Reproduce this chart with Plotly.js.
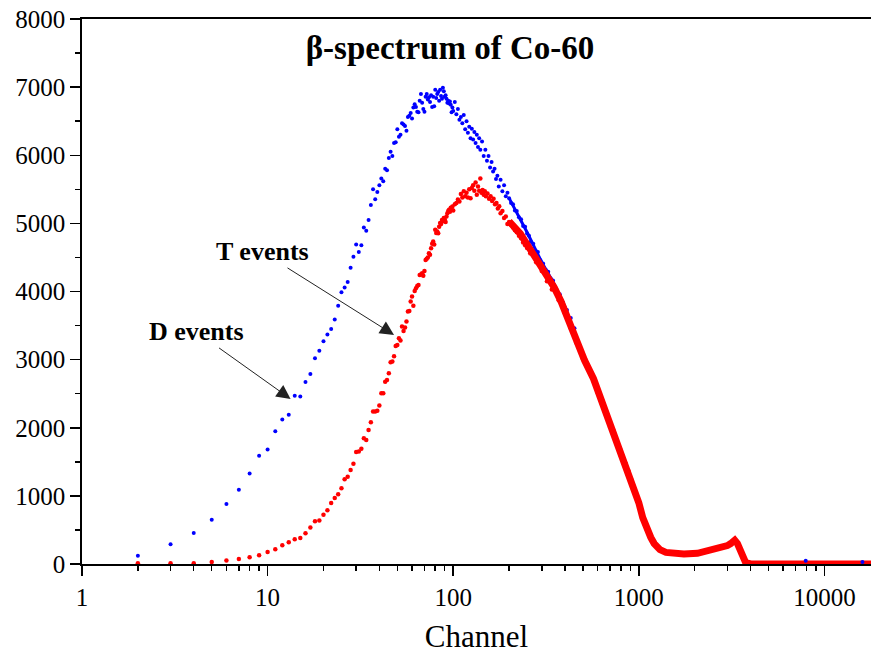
<!DOCTYPE html>
<html>
<head>
<meta charset="utf-8">
<script src="https://cdn.plot.ly/plotly-3.0.1.min.js"></script>
<style>html,body{margin:0;padding:0;background:#fff;}#chart{width:871px;height:654px;}</style>
</head>
<body>
<div id="chart"></div>
<script>
// ---- D events (blue), individual channels ----
const dChannels = [2,3,4,5,6,7,8,9,10,11,12,13,14,15,16,17,18,19,20,21,22,23,24,25,26,27,28,29,30,31,32,33,34,35,36,37,38,39,
  40,41,42,43,44,45,46,47,48,49,50,51,52,53,54,55,56,57,58,59,
  60,61,62,63,64,65,66,67,68,69,70,71,72,73,74,75,76,77,78,79,80,81,82,83,84,85,86,87,88,89,90,91,92,93,94,95,96,97,98,99,
  100,102,104,106,108,110,112,114,116,118,120,122,124,126,128,130,132,134,136,138,140,143,146,149,152,155,158,161,164,167,170,173,176,180,184,188,192,196,
  200,205,210,215,220,226,232,238,244,250,256,262,270,278,286,295,305,315,325,335,345,360,375,390,410,430,450];
const dCounts = [120,290,455,650,880,1090,1330,1590,1680,1950,2120,2190,2470,2460,2670,2790,3020,3130,3270,3370,3450,3590,3790,3990,4060,4140,4350,4510,4690,4580,4680,4940,4890,5050,5270,5500,5355,5460,
  5560,5660,5620,5800,5780,5960,6050,5990,6180,6190,6380,6270,6300,6470,6450,6430,6360,6560,6580,6620,
  6540,6700,6750,6710,6640,6630,6800,6900,6770,6680,6640,6860,6900,6820,6850,6780,6880,6710,6860,6720,6960,6840,6900,6930,6800,6960,6870,6830,6990,6940,6860,6880,6830,6770,6800,6760,6790,6740,6630,6700,
  6650,6780,6600,6680,6520,6560,6470,6590,6380,6500,6330,6420,6250,6390,6230,6340,6180,6300,6120,6250,6080,6200,5990,6080,5920,5990,5820,5900,5760,5800,5650,5700,5540,5640,5470,5560,5400,5450,
  5370,5300,5280,5190,5180,5090,5060,4960,4950,4850,4820,4730,4700,4600,4580,4460,4410,4320,4290,4190,4160,4030,3960,3840,3730,3610,3460];
// D events dense band (high channels)
const dBandChannels = [200,250,300,350,400,450,510,570,610,650,700,760,810,860,900,950,1000,1050,1110,1160,1210,1300,1400,1500,1750,2070,2440,2760,3000,3126,3286,3400,3467,3616,3765,4009];
const dBandCounts   = [5370,4870,4430,4110,3780,3380,2990,2720,2500,2310,2060,1840,1610,1440,1290,1110,900,680,500,390,300,210,170,155,147,157,200,230,270,300,350,300,254,107,20,0];
// isolated D events at the far end
const dTailChannels = [7930,16030];
const dTailCounts   = [48,29];

// ---- T events (red), individual channels ----
const tChannels = [2,3,4,5,6,7,8,9,10,11,12,13,14,15,16,17,18,19,20,21,22,23,24,25,26,27,28,29,30,31,32,33,34,35,36,37,38,39,
  40,41,42,43,44,45,46,47,48,49,50,51,52,53,54,55,56,57,58,59,
  60,61,62,63,64,65,66,67,68,69,70,71,72,73,74,75,76,77,78,79,80,81,82,83,84,85,86,87,88,89,90,91,92,93,94,95,96,97,98,99,
  100,102,104,106,108,110,112,114,116,118,120,122,124,126,128,130,132,134,136,138,140,142,144,146,148,150,153,156,159,162,165,168,171,174,177,180,184,188,192,196,
  200,205,210,215,220,226,232,238,244,250,
  260,270,280,290,300,310,320,330,340,355,370,385,400,415,430,445,460,480,500,520,540,560,580,600,625,650,675,700,730,760,790,820,850,880,910,940,970,1000,1030,1060,1100,1150];
const tCounts = [10,10,10,30,50,75,100,130,176,215,274,318,362,382,450,534,627,637,724,788,896,969,1023,1111,1243,1282,1380,1473,1645,1650,1690,1845,1820,1968,2080,2237,2240,2250,
  2325,2506,2506,2677,2702,2800,2962,2971,3050,3201,3216,3314,3280,3485,3421,3470,3558,3705,3715,3852,
  3925,3789,4009,4048,4082,4097,4244,4250,4269,4230,4300,4464,4480,4500,4562,4540,4636,4700,4733,4690,4905,4860,4880,4856,4950,5007,4990,5050,5030,5080,5060,5020,5100,5150,5180,5200,5170,5230,5210,5247,
  5190,5280,5300,5350,5320,5430,5380,5470,5400,5450,5380,5500,5370,5520,5560,5480,5600,5420,5540,5480,5660,5450,5490,5420,5470,5400,5440,5360,5400,5330,5360,5280,5300,5220,5250,5150,5180,5080,5100,4990,
  5020,4980,4940,4900,4870,4820,4780,4720,4680,4640,
  4560,4560,4430,4440,4300,4300,4150,4160,4030,4010,3870,3830,3680,3620,3460,3420,3250,3180,3010,2960,2860,2740,2700,2520,2440,2270,2200,2010,1960,1800,1700,1570,1470,1360,1240,1120,1020,880,760,650,520,400];
// T events dense band (high channels)
const tBandChannels = [200,230,260,290,320,350,380,420,460,510,570,610,650,700,760,810,860,900,950,1000,1050,1110,1160,1210,1300,1400,1500,1750,2070,2440,2760,3000,3126,3286,3400,3467,3616,3765,4009,5000,8000,12000,18000];
const tBandCounts   = [5030,4850,4620,4420,4220,4060,3860,3560,3300,2990,2720,2500,2310,2060,1840,1610,1440,1290,1110,900,680,500,390,300,210,170,155,147,157,200,230,270,300,350,300,254,107,20,0,0,0,0,0];

// ---- tick labels ----
const xTickVals = [1,10,100,1000,10000];
const xTickText = ['1','10','100','1000','10000'];

const minorX = [];
for (let d = 1; d <= 10000; d *= 10) for (let k = 2; k <= 9; k++) minorX.push(k * d);

const serif = 'Liberation Serif, Times New Roman, serif';
const BLUE = '#0000ff', RED = '#ff0000';

const traces = [
  {x: dBandChannels, y: dBandCounts, type: 'scatter', mode: 'lines', line: {color: BLUE, width: 3}, cliponaxis: false, hoverinfo: 'skip'},
  {x: dChannels, y: dCounts, type: 'scatter', mode: 'markers', marker: {color: BLUE, size: 4}, cliponaxis: false},
  {x: tBandChannels, y: tBandCounts, type: 'scatter', mode: 'lines', line: {color: RED, width: 7}, cliponaxis: false, hoverinfo: 'skip'},
  {x: tChannels, y: tCounts, type: 'scatter', mode: 'markers', marker: {color: RED, size: 4.5}, cliponaxis: false},
  {x: dTailChannels, y: dTailCounts, type: 'scatter', mode: 'markers', marker: {color: BLUE, size: 4}, cliponaxis: false}
];

const layout = {
  width: 871, height: 654,
  margin: {l: 82, r: 0, t: 19, b: 90},
  paper_bgcolor: '#fff', plot_bgcolor: '#fff',
  showlegend: false,
  font: {family: serif, color: '#000', size: 24},
  title: {text: '<b>β-spectrum of Co-60</b>', font: {family: serif, size: 33, color: '#000'},
          x: 450/871, xanchor: 'center', xref: 'container', y: 1 - 47/654, yanchor: 'middle', yref: 'container'},
  xaxis: {
    type: 'log', range: [0, 4.251],
    tickmode: 'array', tickvals: xTickVals, ticktext: xTickText,
    ticks: 'outside', ticklen: 10, tickwidth: 1.5, tickcolor: '#000',
    showline: true, linecolor: '#000', linewidth: 1.8, mirror: true,
    showgrid: false, zeroline: false,
    tickfont: {family: serif, size: 25, color: '#000'},
    minor: {tickmode: 'array', tickvals: minorX, ticks: 'outside', ticklen: 5, tickwidth: 1.5, tickcolor: '#000', showgrid: false},
    title: {text: 'Channel', font: {family: serif, size: 31, color: '#000'}, standoff: 18}
  },
  yaxis: {
    range: [0, 8000], tick0: 0, dtick: 1000,
    ticks: 'outside', ticklen: 10, tickwidth: 1.5, tickcolor: '#000',
    showline: true, linecolor: '#000', linewidth: 1.8,
    showgrid: false, zeroline: false,
    tickfont: {family: serif, size: 25, color: '#000'},
    minor: {dtick: 500, ticks: 'outside', ticklen: 5, tickwidth: 1.5, tickcolor: '#000', showgrid: false}
  },
  annotations: [
    {x: Math.log10(48), y: 3363, xref: 'x', yref: 'y', text: '<b>T events</b>', showarrow: true,
     ax: -132, ay: -83, arrowhead: 2, arrowsize: 2.8, arrowwidth: 1, arrowcolor: '#222',
     font: {family: serif, size: 26, color: '#000'}},
    {x: Math.log10(13.3), y: 2423, xref: 'x', yref: 'y', text: '<b>D events</b>', showarrow: true,
     ax: -94, ay: -67, arrowhead: 2, arrowsize: 2.8, arrowwidth: 1, arrowcolor: '#222',
     font: {family: serif, size: 26, color: '#000'}}
  ]
};

Plotly.newPlot('chart', traces, layout, {displayModeBar: false, staticPlot: true});
</script>
</body>
</html>
